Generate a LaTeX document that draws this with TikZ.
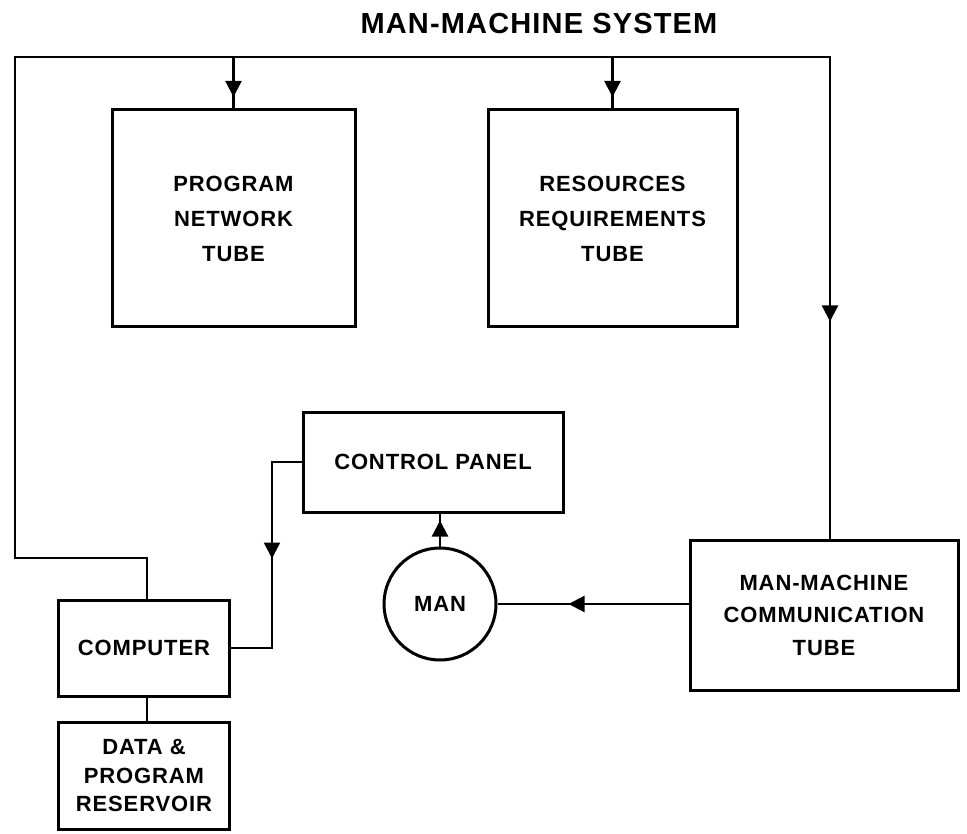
\documentclass[tikz,border=0pt]{standalone}
\usepackage{fontspec}
\setmainfont{Liberation Sans}[LetterSpace=4]
\usetikzlibrary{arrows.meta,decorations.markings,calc}
\begin{document}
\begin{tikzpicture}[x=1pt,y=-1pt,
  box/.style={draw, line width=3pt, rectangle, inner sep=0pt, align=center},
  boxfont/.style={font=\fontsize{22}{#1}\selectfont\bfseries},
  conn/.style={line width=2.2pt, line join=miter},
  arrowat/.style={postaction={decorate}, decoration={markings,
     mark=at position #1 with {\arrow{Triangle[width=16pt,length=16pt]}}}}
]
\useasboundingbox (0,0) rectangle (967,834);
\fill[white] (0,0) rectangle (967,834);

\node[font=\fontsize{29}{29}\selectfont\bfseries] (title) at (539,24) {MAN-MACHINE SYSTEM};

\node[box, boxfont=35, minimum width=243pt, minimum height=217pt] (pnt) at (233.5,218.5)
  {PROGRAM\\NETWORK\\TUBE};
\node[box, boxfont=35, minimum width=249pt, minimum height=217pt] (rrt) at (612.5,218.5)
  {RESOURCES\\REQUIREMENTS\\TUBE};
\node[box, boxfont=22, minimum width=260pt, minimum height=100pt] (cp) at (433,462)
  {CONTROL PANEL};
\node[draw, circle, line width=3pt, minimum size=112pt, inner sep=0pt,
  font=\fontsize{22}{22}\selectfont\bfseries] (man) at (440,604) {MAN};
\node[box, boxfont=32.5, minimum width=268pt, minimum height=150pt] (mmct) at (824,615)
  {MAN-MACHINE\\COMMUNICATION\\TUBE};
\node[box, boxfont=22, minimum width=171pt, minimum height=96pt] (comp) at (144,648)
  {COMPUTER};
\node[box, boxfont=28.5, minimum width=171pt, minimum height=107pt] (data) at (144,775.5)
  {DATA \&\\PROGRAM\\RESERVOIR};

\coordinate (cn) at ($(comp.north)+(3,0)$);
\coordinate (cs) at ($(comp.south)+(3,0)$);
\coordinate (bl) at (15,558);
\coordinate (tl) at (15,57);
\coordinate (tr) at (830,57);

% main loop from computer to man-machine communication tube
\draw[conn, arrowat=1753pt] (cn) -- (cn |- bl) -- (bl) -- (tl) -- (tr)
  -- (tr |- mmct.north);
\draw[conn, arrowat=40pt] (pnt.north |- tl) -- (pnt.north);
\draw[conn, arrowat=40pt] (rrt.north |- tl) -- (rrt.north);

% control panel to computer
\coordinate (cpb) at (272,462);
\draw[conn, arrowat=126pt] (cp.west) -- (cpb) -- (cpb |- comp.east) -- (comp.east);

% man to control panel
\draw[conn, arrowat=26pt] (man.north) -- (man.north |- cp.south);

% communication tube to man
\draw[conn, arrowat=120pt] (mmct.west |- man.east) -- (man.east);

% computer to data reservoir
\draw[conn] (cs) -- (cs |- data.north);
\end{tikzpicture}
\end{document}
